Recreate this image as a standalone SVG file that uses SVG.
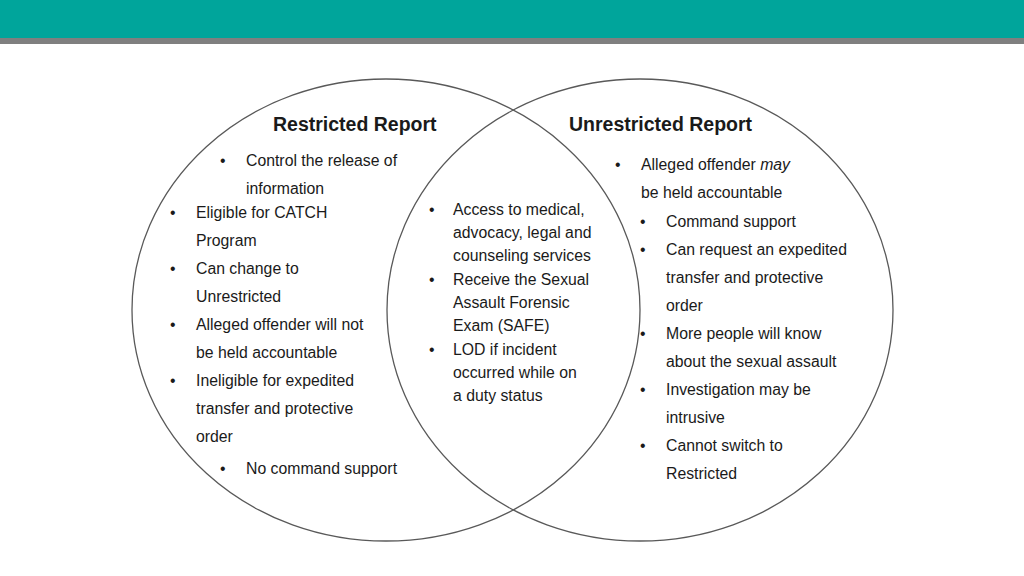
<svg xmlns="http://www.w3.org/2000/svg" width="1024" height="576" viewBox="0 0 1024 576">
<style>
text{font-family:"Liberation Sans",Arial,sans-serif;font-size:15.8px;fill:#1a1a1a}
.h{font-size:19.5px;font-weight:bold}
.c{fill:none;stroke:#595959;stroke-width:1.3}
</style>
<rect x="0" y="0" width="1024" height="38" fill="#00a59b"/>
<rect x="0" y="38" width="1024" height="6" fill="#7f7f7f"/>
<g id="connectors"></g>
<g id="restricted">
<ellipse class="c" cx="386" cy="310" rx="254" ry="231"/>
<text class="h" x="273" y="131">Restricted Report</text>
<text x="220" y="166">•</text><text x="246" y="166">Control the release of</text>
<text x="246" y="194">information</text>
<text x="170" y="218">•</text><text x="196" y="218">Eligible for CATCH</text>
<text x="196" y="246">Program</text>
<text x="170" y="274">•</text><text x="196" y="274">Can change to</text>
<text x="196" y="302">Unrestricted</text>
<text x="170" y="330">•</text><text x="196" y="330">Alleged offender will not</text>
<text x="196" y="358">be held accountable</text>
<text x="170" y="386">•</text><text x="196" y="386">Ineligible for expedited</text>
<text x="196" y="414">transfer and protective</text>
<text x="196" y="442">order</text>
<text x="220" y="474">•</text><text x="246" y="474">No command support</text>
</g>
<g id="unrestricted">
<ellipse class="c" cx="640" cy="310" rx="253" ry="231"/>
<text class="h" x="569" y="131">Unrestricted Report</text>
<text x="615" y="170">•</text><text x="641" y="170">Alleged offender <tspan font-style="italic">may</tspan></text>
<text x="641" y="198">be held accountable</text>
<text x="640" y="227">•</text><text x="666" y="227">Command support</text>
<text x="640" y="255">•</text><text x="666" y="255">Can request an expedited</text>
<text x="666" y="283">transfer and protective</text>
<text x="666" y="311">order</text>
<text x="640" y="339">•</text><text x="666" y="339">More people will know</text>
<text x="666" y="367">about the sexual assault</text>
<text x="640" y="395">•</text><text x="666" y="395">Investigation may be</text>
<text x="666" y="423">intrusive</text>
<text x="640" y="451">•</text><text x="666" y="451">Cannot switch to</text>
<text x="666" y="479">Restricted</text>
</g>
<g id="both">
<text x="429" y="215">•</text><text x="453" y="215">Access to medical,</text>
<text x="453" y="238">advocacy, legal and</text>
<text x="453" y="261">counseling services</text>
<text x="429" y="285">•</text><text x="453" y="285">Receive the Sexual</text>
<text x="453" y="308">Assault Forensic</text>
<text x="453" y="331">Exam (SAFE)</text>
<text x="429" y="355">•</text><text x="453" y="355">LOD if incident</text>
<text x="453" y="378">occurred while on</text>
<text x="453" y="401">a duty status</text>
</g>
</svg>
